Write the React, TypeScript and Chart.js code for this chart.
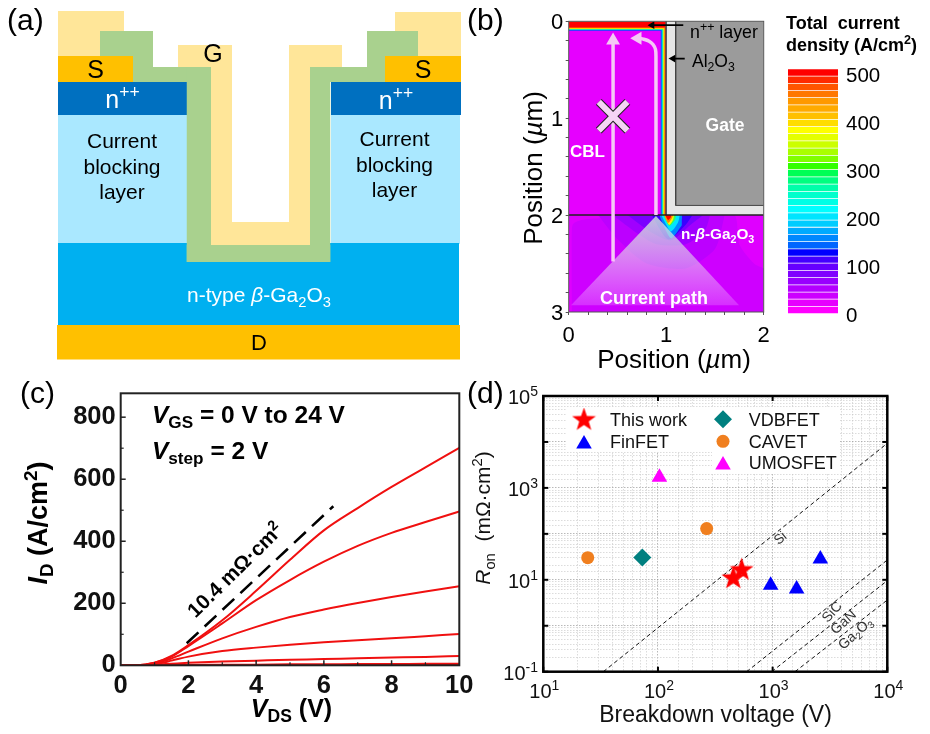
import React, { useEffect, useRef } from "react";
import { Chart, registerables } from "chart.js";
import { drawPoint } from "chart.js/helpers";

Chart.register(...registerables);

const FONT = "'Liberation Sans', Arial, sans-serif";

// ---------- panel (a): device layers [x0, x1, y0, y1] ----------
const goldCap = "#FFE699";
const oxide = "#A9D18E";
const metal = "#FFC000";
const contact = "#0070C0";
const blocking = "#AAE8FF";
const drift = "#00B0F0";
const aBlocking = [[58, 187, 115, 244], [331, 460, 115, 244]];
const aDrift = [[58, 459, 243, 326]];
const aDrain = [[57, 460, 325, 359.5]];
const aContact = [[58, 187, 82, 115], [331, 461, 82, 115]];
const aCap = [[58, 124, 11, 56], [395, 461, 12, 56], [178, 232, 45, 67], [289, 342, 45, 67]];
const aOxide = [
  [100, 153, 31, 82], [153, 211, 67, 82], [186.5, 211, 67, 262], [186.5, 330.5, 245, 262],
  [310, 330.5, 67, 262], [310, 367, 67, 82], [367, 418, 31, 82],
];
const aGate = [[211, 232, 67, 245], [232, 289, 222, 245], [289, 310, 67, 245]];
const aSource = [[58, 133, 56, 82], [385, 461, 56, 82]];

// ---------- panel (b): simulation ----------
const bBands: [number, number, string][] = [
  [1.0, 0, "#FF0000"], [0.989, 0.065, "#FF8000"], [0.981, 0.072, "#F6F000"], [0.973, 0.079, "#30FF60"],
  [0.965, 0.085, "#00C8FF"], [0.955, 0.091, "#0050FF"], [0.945, 0.097, "#E600FF"],
];
const bContours: { c: string; base: number; p: number[][] }[] = [
  { c: "#CE00FF", base: 3, p: [[0.03, 3], [0.04, 2.1], [0.6, 2.03], [1.4, 2.0], [1.7, 2.0], [1.75, 2.3], [1.9, 2.5], [2, 2.55]] },
  { c: "#BC00FF", base: 2, p: [[0.3, 2], [0.5, 2.25], [0.8, 2.5], [1.2, 2.55], [1.5, 2.35], [1.6, 2]] },
  { c: "#A000FF", base: 2, p: [[0.45, 2], [0.65, 2.15], [0.9, 2.3], [1.2, 2.3], [1.4, 2.15], [1.45, 2]] },
  { c: "#7A00FF", base: 2, p: [[0.6, 2], [0.85, 2.18], [1.05, 2.26], [1.25, 2.1], [1.38, 2]] },
  { c: "#3A00FF", base: 2, p: [[0.85, 2], [1.02, 2.25], [1.2, 2.1], [1.27, 2.0]] },
  { c: "#0088FF", base: 2, p: [[0.93, 2], [0.97, 2.1], [1.05, 2.24], [1.15, 2.12], [1.2, 2.05], [1.16, 2.0]] },
  { c: "#00E5FF", base: 2, p: [[0.95, 2], [1.0, 2.1], [1.05, 2.17], [1.12, 2.08], [1.14, 2.0]] },
  { c: "#33FF55", base: 2, p: [[0.97, 2], [1.03, 2.11], [1.09, 2.05], [1.1, 2]] },
  { c: "#FFF000", base: 2, p: [[0.98, 2], [1.03, 2.1], [1.07, 2.05], [1.08, 2]] },
  { c: "#FF8000", base: 2, p: [[0.98, 2], [1.02, 2.08], [1.06, 2.03], [1.07, 2]] },
  { c: "#FF0000", base: 2, p: [[0.99, 2], [1.02, 2.05], [1.05, 2.02], [1.05, 2]] },
];
const bTriangle = [[0.024, 2.93], [0.895, 2.01], [1.747, 2.93]];
const bCurvedArrow = [[0.895, 2.0], [0.895, 0.36], [0.89, 0.29], [0.865, 0.24], [0.825, 0.205], [0.77, 0.185], [0.72, 0.175]];
const bStraightArrow = [[0.455, 2.48], [0.455, 0.2]];
const bCrossA = [[0.308, 0.832], [0.602, 1.128]];
const bCrossB = [[0.308, 1.128], [0.602, 0.832]];
const bLayerArrow = [[1.175, 0.04], [0.855, 0.04]];
const bOxideArrow = [[1.19, 0.385], [1.07, 0.385]];
const bXTickValues = [0, 0.2, 0.4, 0.6, 0.8, 1, 1.2, 1.4, 1.6, 1.8, 2];
const bYTickValues = [0, 0.2, 0.4, 0.6, 0.8, 1, 1.2, 1.4, 1.6, 1.8, 2, 2.2, 2.4, 2.6, 2.8, 3];
const barColors = [
  "#FF0000", "#FF2A00", "#FF5500", "#FF7700", "#FF9900", "#FFAA00", "#FFC000", "#FFDD00", "#FFFF00", "#E5FF00",
  "#CCFF00", "#AAFF00", "#80FF00", "#33FF00", "#00FF55", "#00FF80", "#00FFAA", "#00FFCC", "#00FFE5", "#00FFFF",
  "#00E5FF", "#00CCFF", "#00AAFF", "#0088FF", "#0066FF", "#0000FF", "#4400FF", "#6600FF", "#8000FF", "#9900FF",
  "#B300FF", "#CC00FF", "#E600FF", "#FF00FF",
];
const barEdges = [
  513, 498, 483, 468, 453, 438, 423, 408, 393, 378, 363, 348, 333, 318, 303, 288, 273,
  258, 243, 228, 213, 198, 183, 168, 153, 138, 123, 108, 93, 78, 63, 48, 33, 18, 3,
];
const barTicks = [0, 100, 200, 300, 400, 500];

// ---------- panel (c): output curves ----------
const vds = [0, 0.5, 1, 1.5, 2, 3, 4, 5, 6, 7, 8, 9, 10];
const id24 = [0, 0, 8, 30, 65, 145, 240, 340, 435, 507, 575, 638, 701];
const id20 = [0, 0, 8, 28, 62, 135, 210, 275, 334, 385, 427, 462, 496];
const id16 = [0, 0, 6, 22, 44, 87, 124, 156, 180, 201, 220, 238, 255];
const id12 = [0, 0, 4, 15, 28, 46, 57, 66, 74, 81, 87, 94, 101];
const id8 = [0, 0, 2, 5, 8, 12, 15, 18, 20, 23, 25, 27, 30];
const id4 = [0, 0, 0, 1, 1, 2, 2, 3, 3, 4, 4, 5, 5];
const id0 = [0, 0, 0, 0, 0, 0, 1, 1, 1, 1, 1, 2, 2];
const fitLine = [[1.95, 71], [6.28, 513]];
const cXTicks = [0, 2, 4, 6, 8, 10];
const cYTicks = [0, 200, 400, 600, 800];

// ---------- panel (d): benchmark ----------
const thisWork = [[454, 10.8], [537, 16.3]];
const finFET = [[961, 7.6], [1619, 6.3], [2606, 28.3]];
const vdbFET = [[73, 30.6]];
const cavet = [[24.4, 30.3], [266, 130]];
const umosFET = [[103, 1700]];
const limitSi = [[33.4, 0.1], [10000, 9360]];
const limitSiC = [[593, 0.1], [10000, 27]];
const limitGaN = [[980, 0.1], [10000, 9.6]];
const limitGa2O3 = [[1567, 0.1], [10000, 3.63]];
const dXDecades = [10, 100, 1000, 10000];
const dYDecades = [0.1, 1, 10, 100, 1000, 10000, 100000];
const dXLabels = [[10, "1"], [100, "2"], [1000, "3"], [10000, "4"]];
const dYLabels = [[0.1, "-1"], [10, "1"], [1000, "3"], [100000, "5"]];

// ---------- helpers ----------
type Seg = string | { t: string; i?: boolean; b?: boolean; sub?: boolean; sup?: boolean };
type Txt = { x: number; y: number; size: number; segs: Seg[]; color?: string; bold?: boolean; rot?: number; align?: "left" | "center" };

function drawRich(ctx: CanvasRenderingContext2D, tx: Txt) {
  const { x, y, size, segs, color = "#000", bold = false, rot = 0, align = "left" } = tx;
  const parts = segs.map((s) => (typeof s === "string" ? { t: s } : { ...s })) as any[];
  const fontOf = (p: any) => {
    const sz = p.sub || p.sup ? size * 0.7 : size;
    return `${p.i ? "italic " : ""}${p.b || bold ? "bold " : ""}${sz}px ${FONT}`;
  };
  let w = 0;
  ctx.save();
  parts.forEach((p) => {
    ctx.font = fontOf(p);
    p.w = ctx.measureText(p.t).width;
    w += p.w;
  });
  ctx.translate(x, y);
  ctx.rotate((rot * Math.PI) / 180);
  ctx.fillStyle = color;
  ctx.textBaseline = "alphabetic";
  ctx.textAlign = "left";
  let cx = align === "center" ? -w / 2 : 0;
  const base = size * 0.35;
  parts.forEach((p) => {
    ctx.font = fontOf(p);
    const dy = p.sub ? size * 0.22 : p.sup ? -size * 0.38 : 0;
    ctx.fillText(p.t, cx, base + dy);
    cx += p.w;
  });
  ctx.restore();
}

const textPlugin = (list: Txt[]) => ({
  id: "richText",
  afterDraw(chart: any) {
    list.forEach((t) => drawRich(chart.ctx, t));
  },
});

const M = 60; // room kept for each axis' tick labels
const fixSize = (size: "width" | "height", v: number) => (scale: any) => {
  scale[size] = v;
  scale.paddingLeft = scale.paddingRight = scale.paddingTop = scale.paddingBottom = 0;
};

const rect = (r: number[], color: string) => ({
  type: "line",
  data: [{ x: r[0], y: r[2] }, { x: r[1], y: r[2] }],
  fill: { value: r[3] },
  backgroundColor: color,
  borderWidth: 0,
  pointRadius: 0,
});
const area = (pts: number[][], base: number, color: any) => ({
  type: "line",
  data: pts.map((p) => ({ x: p[0], y: p[1] })),
  fill: { value: base },
  backgroundColor: color,
  borderWidth: 0,
  pointRadius: 0,
  tension: 0.25,
});
const stroke = (pts: number[][], color: string, width: number, extra: any = {}) => ({
  type: "line",
  data: pts.map((p) => ({ x: p[0], y: p[1] })),
  borderColor: color,
  borderWidth: width,
  pointRadius: 0,
  fill: false,
  ...extra,
});
const head = (p: number[], color: string, r: number, rotation: number) => ({
  type: "scatter",
  data: [{ x: p[0], y: p[1] }],
  pointStyle: "triangle",
  pointRadius: r,
  rotation,
  backgroundColor: color,
  borderWidth: 0,
});
const ordered = (ds: any[]) => ds.map((d, i) => ({ order: -i, ...d }));

const box = (l: number, t: number, r: number, b: number) => ({ left: l, top: t, right: 930 - r, bottom: 734 - b });
const base = { responsive: false, animation: false as const, devicePixelRatio: 1 };
const quiet = { legend: { display: false }, tooltip: { enabled: false }, title: { display: false } };

const framePlugin = (color: string, width: number) => ({
  id: "frame",
  afterDraw(chart: any) {
    const { left, right, top, bottom } = chart.chartArea;
    const c = chart.ctx;
    c.save();
    c.strokeStyle = color;
    c.lineWidth = width;
    c.strokeRect(left, top, right - left, bottom - top);
    c.restore();
  },
});

const inwardTicks = (
  spec: { axis: "x" | "y"; side: "min" | "max"; values: number[]; len: number; width: number }[],
  color = "#000"
) => ({
  id: "inwardTicks",
  afterDraw(chart: any) {
    const { left, right, top, bottom } = chart.chartArea;
    const c = chart.ctx;
    c.save();
    c.strokeStyle = color;
    spec.forEach((s) => {
      c.lineWidth = s.width;
      s.values.forEach((v) => {
        c.beginPath();
        if (s.axis === "x") {
          const px = chart.scales.x.getPixelForValue(v);
          const y0 = s.side === "min" ? bottom : top;
          c.moveTo(px, y0);
          c.lineTo(px, s.side === "min" ? y0 - s.len : y0 + s.len);
        } else {
          const py = chart.scales.y.getPixelForValue(v);
          const x0 = s.side === "min" ? left : right;
          c.moveTo(x0, py);
          c.lineTo(s.side === "min" ? x0 + s.len : x0 - s.len, py);
        }
        c.stroke();
      });
    });
    c.restore();
  },
});

function makeStar(size: number) {
  const cv = document.createElement("canvas");
  cv.width = cv.height = size;
  const g = cv.getContext("2d")!;
  const R = size / 2;
  g.fillStyle = "#FF0000";
  g.beginPath();
  for (let i = 0; i < 10; i++) {
    const r = i % 2 ? R * 0.4 : R;
    const a = -Math.PI / 2 + (i * Math.PI) / 5;
    const px = R + r * Math.cos(a);
    const py = R + r * Math.sin(a);
    i ? g.lineTo(px, py) : g.moveTo(px, py);
  }
  g.closePath();
  g.fill();
  return cv;
}

// ---------- chart builders ----------
function chartA(cv: HTMLCanvasElement) {
  const ds = ordered([
    ...aBlocking.map((r) => rect(r, blocking)),
    ...aDrift.map((r) => rect(r, drift)),
    ...aDrain.map((r) => rect(r, metal)),
    ...aContact.map((r) => rect(r, contact)),
    ...aCap.map((r) => rect(r, goldCap)),
    ...aOxide.map((r) => rect(r, oxide)),
    ...aGate.map((r) => rect(r, goldCap)),
    ...aSource.map((r) => rect(r, metal)),
  ]);
  const texts: Txt[] = [
    { x: 7, y: 19, size: 30, segs: ["(a)"] },
    { x: 213, y: 53, size: 25, segs: ["G"], align: "center" },
    { x: 95.5, y: 69, size: 25, segs: ["S"], align: "center" },
    { x: 423, y: 69, size: 25, segs: ["S"], align: "center" },
    { x: 122.5, y: 99, size: 25, segs: ["n", { t: "++", sup: true }], color: "#fff", align: "center" },
    { x: 396, y: 100, size: 25, segs: ["n", { t: "++", sup: true }], color: "#fff", align: "center" },
    { x: 122, y: 141, size: 21, segs: ["Current"], align: "center" },
    { x: 122, y: 167, size: 21, segs: ["blocking"], align: "center" },
    { x: 122, y: 192, size: 21, segs: ["layer"], align: "center" },
    { x: 394.5, y: 139, size: 21, segs: ["Current"], align: "center" },
    { x: 394.5, y: 165, size: 21, segs: ["blocking"], align: "center" },
    { x: 394.5, y: 190, size: 21, segs: ["layer"], align: "center" },
    { x: 259, y: 295, size: 21, color: "#fff", align: "center", segs: ["n-type ", { t: "β", i: true }, "-Ga", { t: "2", sub: true }, "O", { t: "3", sub: true }] },
    { x: 259, y: 342, size: 22, segs: ["D"], align: "center" },
  ];
  return new Chart(cv, {
    type: "line",
    data: { datasets: ds as any },
    options: {
      ...base,
      layout: { padding: 0 },
      plugins: quiet,
      scales: {
        x: { type: "linear", min: 0, max: 930, display: false },
        y: { type: "linear", min: 0, max: 734, reverse: true, display: false },
      },
    },
    plugins: [textPlugin(texts)],
  } as any);
}

function chartB(cv: HTMLCanvasElement) {
  const triangleFill = (ctx: any) => {
    const ch = ctx.chart;
    if (!ch.chartArea) return "rgba(255,255,255,0.5)";
    const g = ch.ctx.createLinearGradient(0, ch.scales.y.getPixelForValue(2), 0, ch.scales.y.getPixelForValue(2.93));
    g.addColorStop(0, "rgba(205,225,215,0.85)");
    g.addColorStop(1, "rgba(255,255,255,0.18)");
    return g;
  };
  const ds = ordered([
    rect([0, 2, 2, 3], "#DF00FF"),
    ...bContours.map((k) => area(k.p, k.base, k.c)),
    ...bBands.map(([x, y, c]) => rect([0, x, y, 2], c)),
    rect([1.0, 2, 0, 2], "#E6E6E6"),
    rect([1.097, 2, 0, 1.9], "#9B9B9B"),
    stroke([[1.097, 0], [1.097, 1.9], [2, 1.9]], "#444", 1),
    stroke([[1.0, 0], [1.0, 2]], "#555", 1),
    stroke([[0, 2], [2, 2]], "#222", 1.5),
    { ...area(bTriangle, 2.93, triangleFill), tension: 0 },
    stroke(bStraightArrow, "#F5C8F5", 3.5),
    head([0.455, 0.198], "#F5C8F5", 8, 0),
    stroke(bCurvedArrow, "#F5C8F5", 3.5, { tension: 0.3 }),
    head([0.708, 0.175], "#F5C8F5", 7.5, -90),
    stroke(bCrossA, "#222", 8),
    stroke(bCrossB, "#222", 8),
    stroke(bCrossA, "#F5D4F5", 6),
    stroke(bCrossB, "#F5D4F5", 6),
    stroke(bLayerArrow, "#000", 1.8),
    head(bLayerArrow[1], "#000", 4.5, -90),
    stroke(bOxideArrow, "#000", 1.8),
    head(bOxideArrow[1], "#000", 4.5, -90),
  ]);
  const texts: Txt[] = [
    { x: 467, y: 19, size: 30, segs: ["(b)"] },
    { x: 690, y: 32, size: 17.8, segs: ["n", { t: "++", sup: true }, " layer"] },
    { x: 692, y: 61, size: 17.5, segs: ["Al", { t: "2", sub: true }, "O", { t: "3", sub: true }] },
    { x: 725, y: 125, size: 17.5, bold: true, color: "#fff", segs: ["Gate"], align: "center" },
    { x: 570, y: 151, size: 17, bold: true, color: "#fff", segs: ["CBL"] },
    { x: 681, y: 234, size: 15.3, bold: true, color: "#fff", segs: ["n-", { t: "β", i: true }, "-Ga", { t: "2", sub: true }, "O", { t: "3", sub: true }] },
    { x: 654, y: 298, size: 18, bold: true, color: "#fff", segs: ["Current path"], align: "center" },
    { x: 532.5, y: 168, size: 26, rot: -90, align: "center", segs: ["Position (", { t: "µ", i: true }, "m)"] },
    { x: 674, y: 359, size: 26, align: "center", segs: ["Position (", { t: "µ", i: true }, "m)"] },
    { x: 786, y: 23, size: 18, bold: true, segs: ["Total  current"] },
    { x: 786, y: 45, size: 18, bold: true, segs: ["density (A/cm", { t: "2", sup: true }, ")"] },
  ];
  const ints = (v: any) => (Number.isInteger(v) ? String(v) : "");
  const tickOpts = (axis: any) => ({
    type: "linear",
    ...axis,
    border: { display: false },
    grid: { drawOnChartArea: false, drawTicks: true, tickLength: 3, color: "#555", lineWidth: 1 },
  });
  return new Chart(cv, {
    type: "line",
    data: { datasets: ds as any },
    options: {
      ...base,
      layout: { padding: box(568.7 - M, 21.3, 763.7, 312 + 40) },
      plugins: quiet,
      scales: {
        x: tickOpts({
          min: 0, max: 2, position: "bottom", afterFit: fixSize("height", 40),
          afterBuildTicks: (s: any) => { s.ticks = bXTickValues.map((value) => ({ value })); },
          ticks: { autoSkip: false, maxRotation: 0, padding: 8, color: "#000", font: { family: FONT, size: 22 }, callback: ints },
        }),
        y: tickOpts({
          min: 0, max: 3, reverse: true, position: "left", afterFit: fixSize("width", M),
          afterBuildTicks: (s: any) => { s.ticks = bYTickValues.map((value) => ({ value })); },
          ticks: { autoSkip: false, padding: 2.5, labelOffset: 2, color: "#000", font: { family: FONT, size: 22 }, callback: ints },
        }),
      },
    },
    plugins: [framePlugin("#555", 1), textPlugin(texts)],
  } as any);
}

function chartBar(cv: HTMLCanvasElement) {
  const ds = ordered(barColors.map((c, i) => rect([0, 1, barEdges[i] - 0.8, barEdges[i + 1] + 0.8], c)));
  return new Chart(cv, {
    type: "line",
    data: { datasets: ds as any },
    options: {
      ...base,
      layout: { padding: box(788, 68, 838 + M, 316) },
      plugins: quiet,
      scales: {
        x: { type: "linear", min: 0, max: 1, display: false },
        y: {
          type: "linear", min: -2, max: 515, position: "right", afterFit: fixSize("width", M),
          afterBuildTicks: (s: any) => { s.ticks = barTicks.map((value) => ({ value })); },
          border: { display: false },
          grid: { display: false, drawTicks: false },
          ticks: { padding: 8, labelOffset: 1, color: "#000", font: { family: FONT, size: 20.5 } },
        },
      },
    },
  } as any);
}

function chartC(cv: HTMLCanvasElement) {
  const curves = [id24, id20, id16, id12, id8, id4, id0];
  const ds = ordered([
    ...curves.map((ys) => ({
      type: "line",
      data: vds.map((x, i) => ({ x, y: ys[i] })),
      borderColor: "#F01010",
      borderWidth: 2,
      pointRadius: 0,
      cubicInterpolationMode: "monotone",
      fill: false,
    })),
    stroke(fitLine, "#000", 2.6, { borderDash: [16, 8.5] }),
  ]);
  const texts: Txt[] = [
    { x: 20, y: 392, size: 30, segs: ["(c)"] },
    { x: 152, y: 414, size: 24.5, bold: true, segs: [{ t: "V", i: true }, { t: "GS", sub: true }, " = 0 V to 24 V"] },
    { x: 152, y: 450, size: 24.5, bold: true, segs: [{ t: "V", i: true }, { t: "step", sub: true }, " = 2 V"] },
    { x: 235, y: 570, size: 20.5, bold: true, rot: -44.5, align: "center", segs: ["10.4 mΩ·cm", { t: "2", sup: true }] },
    { x: 38, y: 523, size: 27, bold: true, rot: -90, align: "center", segs: [{ t: "I", i: true }, { t: "D", sub: true }, " (A/cm", { t: "2", sup: true }, ")"] },
    { x: 291.5, y: 708, size: 25, bold: true, align: "center", segs: [{ t: "V", i: true }, { t: "DS", sub: true }, " (V)"] },
  ];
  const tickFont = { family: FONT, size: 25.5, weight: "bold" };
  return new Chart(cv, {
    type: "line",
    data: { datasets: ds as any },
    options: {
      ...base,
      layout: { padding: box(120.7 - M, 393.3, 459.3, 665.3 + 40) },
      plugins: quiet,
      scales: {
        x: {
          type: "linear", min: 0, max: 10, afterFit: fixSize("height", 40),
          afterBuildTicks: (s: any) => { s.ticks = cXTicks.map((value) => ({ value })); },
          border: { display: false }, grid: { display: false, drawTicks: false },
          ticks: { autoSkip: false, maxRotation: 0, padding: 5, color: "#111", font: tickFont },
        },
        y: {
          type: "linear", min: 0, max: 877, afterFit: fixSize("width", M),
          afterBuildTicks: (s: any) => { s.ticks = cYTicks.map((value) => ({ value })); },
          border: { display: false }, grid: { display: false, drawTicks: false },
          ticks: { autoSkip: false, padding: 5, color: "#111", font: tickFont },
        },
      },
    },
    plugins: [
      framePlugin("#222", 2),
      inwardTicks(
        [
          { axis: "x", side: "min", values: [2, 4, 6, 8], len: 5, width: 1.5 },
          { axis: "x", side: "min", values: [1, 3, 5, 7, 9], len: 3, width: 1.2 },
          { axis: "y", side: "min", values: [200, 400, 600, 800], len: 5, width: 1.5 },
          { axis: "y", side: "min", values: [100, 300, 500, 700], len: 3, width: 1.2 },
        ],
        "#222"
      ),
      textPlugin(texts),
    ],
  } as any);
}

function chartD(cv: HTMLCanvasElement) {
  const star = makeStar(25);
  const toPts = (a: number[][]) => a.map((p) => ({ x: p[0], y: p[1] }));
  const mark = (a: number[][], style: any, color: string, r: number) => ({
    type: "scatter",
    data: toPts(a),
    pointStyle: style,
    pointRadius: r,
    backgroundColor: color,
    borderWidth: 0,
  });
  const dash = (a: number[][]) => ({ type: "scatter", showLine: true, data: toPts(a), borderColor: "#111", borderWidth: 1, borderDash: [4, 3], pointRadius: 0 });
  const ds = ordered([
    dash(limitSi), dash(limitSiC), dash(limitGaN), dash(limitGa2O3),
    mark(finFET, "triangle", "#0000FF", 9),
    mark(vdbFET, "rectRot", "#008080", 9),
    mark(cavet, "circle", "#F07F1F", 6.5),
    mark(umosFET, "triangle", "#FF00FF", 9),
    mark(thisWork, star, "#FF0000", 12),
  ]);
  const legendRows: [number, number, number, any, string, number, string][] = [
    [584, 420, 420, star, "#FF0000", 12, "This work"],
    [584, 444, 442, "triangle", "#0000FF", 9, "FinFET"],
    [723, 419.3, 419.3, "rectRot", "#008080", 9, "VDBFET"],
    [723, 441.3, 441.3, "circle", "#F07F1F", 6.5, "CAVET"],
    [723, 465, 463, "triangle", "#FF00FF", 9, "UMOSFET"],
  ];
  const legendPlugin = {
    id: "panelLegend",
    beforeDatasetsDraw(chart: any) {
      const c = chart.ctx;
      c.save();
      c.fillStyle = "#fff";
      c.fillRect(566, 408, 148, 44);
      c.fillRect(712, 408, 128, 66);
      c.restore();
    },
    afterDraw(chart: any) {
      const c = chart.ctx;
      legendRows.forEach(([x, y, ty, style, color, r, label], i) => {
        c.save();
        c.fillStyle = color;
        c.strokeStyle = color;
        c.lineWidth = 0;
        drawPoint(c, { pointStyle: style, rotation: 0, radius: r, borderWidth: 0 } as any, x, y);
        c.restore();
        drawRich(c, { x: i < 2 ? 610 : 748.7, y: ty, size: 18, segs: [label], color: "#111" });
      });
    },
  };
  const tickLabels = {
    id: "powerLabels",
    afterDraw(chart: any) {
      const c = chart.ctx;
      dXLabels.forEach(([v, e]) => {
        const px = chart.scales.x.getPixelForValue(v);
        drawRich(c, { x: px + 1, y: 691, size: 20, segs: ["10", { t: String(e), sup: true }], align: "center", color: "#111" });
      });
      dYLabels.forEach(([v, e]) => {
        const py = chart.scales.y.getPixelForValue(v);
        const txt = String(e);
        const w = 22.2 + (txt.length > 1 ? 12.5 : 7.8);
        drawRich(c, { x: 538 - w, y: py + 1, size: 20, segs: ["10", { t: txt, sup: true }], color: "#111" });
      });
    },
  };
  const texts: Txt[] = [
    { x: 467, y: 392, size: 30, segs: ["(d)"] },
    { x: 715.5, y: 714, size: 23, align: "center", color: "#111", segs: ["Breakdown voltage (V)"] },
    { x: 483, y: 518, size: 21, rot: -90, align: "center", color: "#111", segs: [{ t: "R", i: true }, { t: "on", sub: true }, "  (mΩ·cm", { t: "2", sup: true }, ")"] },
    { x: 780, y: 537.7, size: 13.5, rot: -40, align: "center", color: "#333", segs: ["Si"] },
    { x: 831.7, y: 611.7, size: 14, rot: -48, align: "center", color: "#333", segs: ["SiC"] },
    { x: 843, y: 621.7, size: 14, rot: -42, align: "center", color: "#333", segs: ["GaN"] },
    { x: 855, y: 633, size: 14, rot: -42, align: "center", color: "#333", segs: ["Ga", { t: "2", sub: true }, "O", { t: "3", sub: true }] },
  ];
  const isDecade = (v: number) => Math.abs(Math.log10(v) - Math.round(Math.log10(v))) < 1e-6;
  const gridOpts = {
    drawTicks: false,
    lineWidth: 0.6,
    color: (c: any) => (c.tick && isDecade(c.tick.value) ? "#8A8A8A" : "#C4C4C4"),
  };
  const border = { display: false, dash: [1.5, 1.5] };
  return new Chart(cv, {
    type: "scatter",
    data: { datasets: ds as any },
    options: {
      ...base,
      layout: { padding: box(543.3, 396, 887.3, 671.7) },
      plugins: quiet,
      scales: {
        x: { type: "logarithmic", min: 10, max: 10000, afterFit: fixSize("height", 0), grid: gridOpts, border, ticks: { display: false, autoSkip: false } },
        y: { type: "logarithmic", min: 0.1, max: 100000, afterFit: fixSize("width", 0), grid: gridOpts, border, ticks: { display: false, autoSkip: false } },
      },
    },
    plugins: [
      legendPlugin,
      framePlugin("#000", 2.5),
      inwardTicks([
        { axis: "x", side: "min", values: dXDecades, len: 5, width: 2 },
        { axis: "x", side: "max", values: dXDecades, len: 5, width: 2 },
        { axis: "y", side: "min", values: dYDecades, len: 5, width: 2 },
        { axis: "y", side: "max", values: dYDecades, len: 5, width: 2 },
      ]),
      tickLabels,
      textPlugin(texts),
    ],
  } as any);
}

const builders = [chartA, chartB, chartBar, chartC, chartD];

export default function App() {
  const refs = useRef<(HTMLCanvasElement | null)[]>([]);
  useEffect(() => {
    const charts = builders.map((b, i) => b(refs.current[i]!));
    return () => charts.forEach((c) => c.destroy());
  }, []);
  return (
    <div style={{ position: "absolute", left: 0, top: 0, width: 930, height: 734, background: "#fff", overflow: "hidden" }}>
      {builders.map((_, i) => (
        <canvas
          key={i}
          ref={(el) => { refs.current[i] = el; }}
          width={930}
          height={734}
          style={{ position: "absolute", left: 0, top: 0, width: 930, height: 734 }}
        />
      ))}
    </div>
  );
}
